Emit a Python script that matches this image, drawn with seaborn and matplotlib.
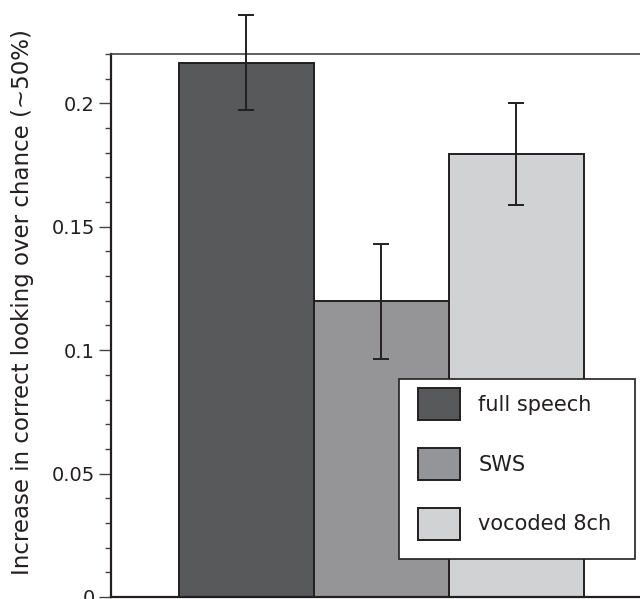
import matplotlib
matplotlib.use("Agg")
import matplotlib.pyplot as plt
from matplotlib.patches import Patch, Rectangle
from matplotlib.ticker import MultipleLocator, FuncFormatter
import seaborn as sns
import pandas as pd

# Values
conditions = ["full speech", "SWS", "vocoded 8ch"]
means = [0.2165, 0.1198, 0.1795]
errors = [0.0193, 0.0232, 0.0205]
colors = ["#58595b", "#949599", "#d1d2d4"]
ylabel = "Increase in correct looking over chance (~50%)"

sns.set_style("ticks")
plt.rcParams["font.family"] = ["DejaVu Sans"]

df = pd.DataFrame({"condition": conditions, "mean": means, "err": errors})

W, H = 640, 599
fig = plt.figure(figsize=(W / 100, H / 100), dpi=100)
ax = fig.add_axes([111 / W, 2 / H, 540 / W, 543 / H])

sns.barplot(data=df, x="condition", y="mean", hue="condition",
            palette=colors, width=1.0, dodge=False, errorbar=None,
            edgecolor="#231f20", linewidth=1.4, legend=False, ax=ax)
ax.errorbar(range(len(conditions)), df["mean"], yerr=df["err"], fmt="none",
            ecolor="#231f20", elinewidth=1.4, capsize=6, capthick=1.4,
            clip_on=False, zorder=5)

ax.set_xlim(-1, 3)
ax.set_ylim(0, 0.22)
ax.yaxis.set_major_locator(MultipleLocator(0.05))
ax.yaxis.set_minor_locator(MultipleLocator(0.01))
ax.yaxis.set_major_formatter(FuncFormatter(lambda v, p: f"{v:g}"))
ax.tick_params(axis="y", which="major", length=8.5, width=1.0,
               color="#444444", pad=3, labelsize=14, labelcolor="#231f20")
ax.tick_params(axis="y", which="minor", length=4.3, width=1.0, color="#444444")
ax.set_xticks([])
ax.set_xlabel("")
ax.set_ylabel(ylabel, fontsize=16.5, color="#231f20")
ax.yaxis.set_label_coords(-0.1435, 0.543)

for side in ["left", "bottom"]:
    ax.spines[side].set_linewidth(1.6)
    ax.spines[side].set_color("#231f20")
ax.spines["top"].set_linewidth(1.2)
ax.spines["top"].set_color("#444444")
ax.spines["right"].set_visible(False)

# legend box drawn separately so the padding can match the original
frame = Rectangle((399 / W, 1 - 559 / H), 236 / W, 180 / H,
                  transform=fig.transFigure, facecolor="white",
                  edgecolor="#231f20", linewidth=1.2, zorder=3)
fig.patches.append(frame)

handles = [Patch(facecolor=c, edgecolor="#231f20", linewidth=1.4) for c in colors]
leg = fig.legend(handles, conditions, loc="upper left",
                 bbox_to_anchor=(418 / W, 1 - 388 / H),
                 bbox_transform=fig.transFigure, fontsize=15,
                 handlelength=2.0, handleheight=2.0, labelspacing=1.33,
                 handletextpad=0.9, borderpad=0, borderaxespad=0,
                 frameon=False)
leg.set_zorder(4)
for t in leg.get_texts():
    t.set_color("#231f20")

fig.savefig("out.png", dpi=100)
